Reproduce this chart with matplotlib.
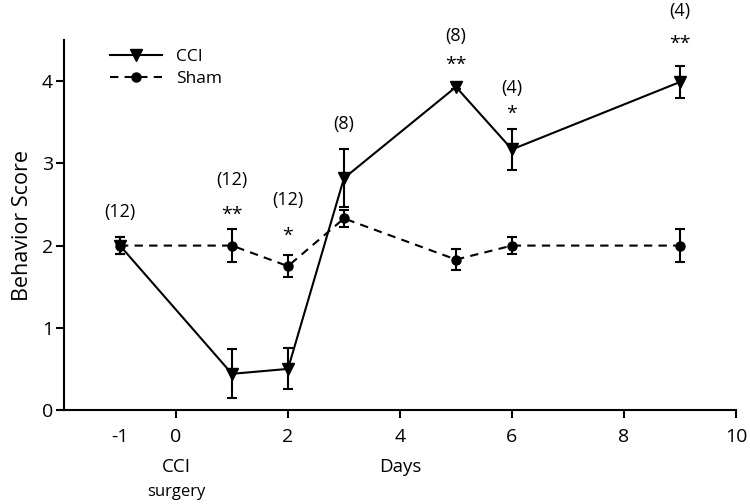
import matplotlib
matplotlib.use("Agg")
import matplotlib.pyplot as plt
from matplotlib.lines import Line2D

plt.rcParams['font.family'] = ['Open Sans', 'DejaVu Sans']

days = [-1, 1, 2, 3, 5, 6, 9]
cci = [2.0, 0.44, 0.50, 2.82, 3.93, 3.17, 3.99]
cci_err = [0.1, 0.30, 0.25, 0.35, 0.03, 0.25, 0.20]
sham = [2.0, 2.0, 1.75, 2.33, 1.83, 2.0, 2.0]
sham_err = [0.1, 0.20, 0.13, 0.10, 0.13, 0.10, 0.20]

# group sizes and significance marks above each day
n_labels = ["(12)", "(12)", "(12)", "(8)", "(8)", "(4)", "(4)"]
n_y = [2.41, 2.80, 2.56, 3.48, 4.55, 3.92, 4.85]
star_labels = ["", "**", "*", "", "**", "*", "**"]
star_y = [0, 2.38, 2.12, 0, 4.20, 3.60, 4.46]

xticks = [-1, 0, 2, 4, 6, 8, 10]
yticks = [0, 1, 2, 3, 4]

fig = plt.figure(figsize=(7.5, 5.04), dpi=100)
ax = fig.add_axes([0.0853, 0.1865, 0.896, 0.734])

ax.errorbar(days, sham, yerr=sham_err, color='black', lw=1.5, ls=(0, (4, 3)),
            marker='o', markersize=6.5, capsize=3.5, elinewidth=1.5, capthick=1.5)
ax.errorbar(days, cci, yerr=cci_err, color='black', lw=1.5, ls='-',
            marker='v', markersize=8, capsize=3.5, elinewidth=1.5, capthick=1.5)

for x, t, y in zip(days, n_labels, n_y):
    ax.text(x, y, t, ha='center', va='center', fontsize=13, clip_on=False)
for x, t, y in zip(days, star_labels, star_y):
    if t:
        ax.text(x, y, t, ha='center', va='center', fontsize=14, clip_on=False)

ax.set_xlim(-2, 10)
ax.set_ylim(0, 4.5)
ax.set_xticks(xticks)
ax.set_xticklabels([str(v) for v in xticks])
ax.set_yticks(yticks)
ax.xaxis.get_major_ticks()[0].tick1line.set_visible(False)
ax.tick_params(axis='both', labelsize=14, width=1.5, length=6, direction='out')
ax.tick_params(axis='x', pad=7)
ax.tick_params(axis='y', pad=2)
for s in ['top', 'right']:
    ax.spines[s].set_visible(False)
for s in ['left', 'bottom']:
    ax.spines[s].set_linewidth(1.5)

ax.set_ylabel('Behavior Score', fontsize=15.5, labelpad=6)
ax.text(4, -0.69, 'Days', ha='center', va='center', fontsize=13.5)
ax.text(0, -0.69, 'CCI', ha='center', va='center', fontsize=13.5)
ax.text(0, -1.0, 'surgery', ha='center', va='center', fontsize=12)

handles = [Line2D([], [], color='black', lw=1.5, marker='v', markersize=8),
           Line2D([], [], color='black', lw=1.5, ls=(0, (4, 3)), marker='o', markersize=6.5)]
ax.legend(handles, ['CCI', 'Sham'], loc='upper left', bbox_to_anchor=(0.055, 1.0),
          frameon=False, fontsize=12.5, handlelength=3.0, handletextpad=0.8,
          labelspacing=0.35, borderaxespad=0.1)

fig.savefig('out.png', dpi=100)
